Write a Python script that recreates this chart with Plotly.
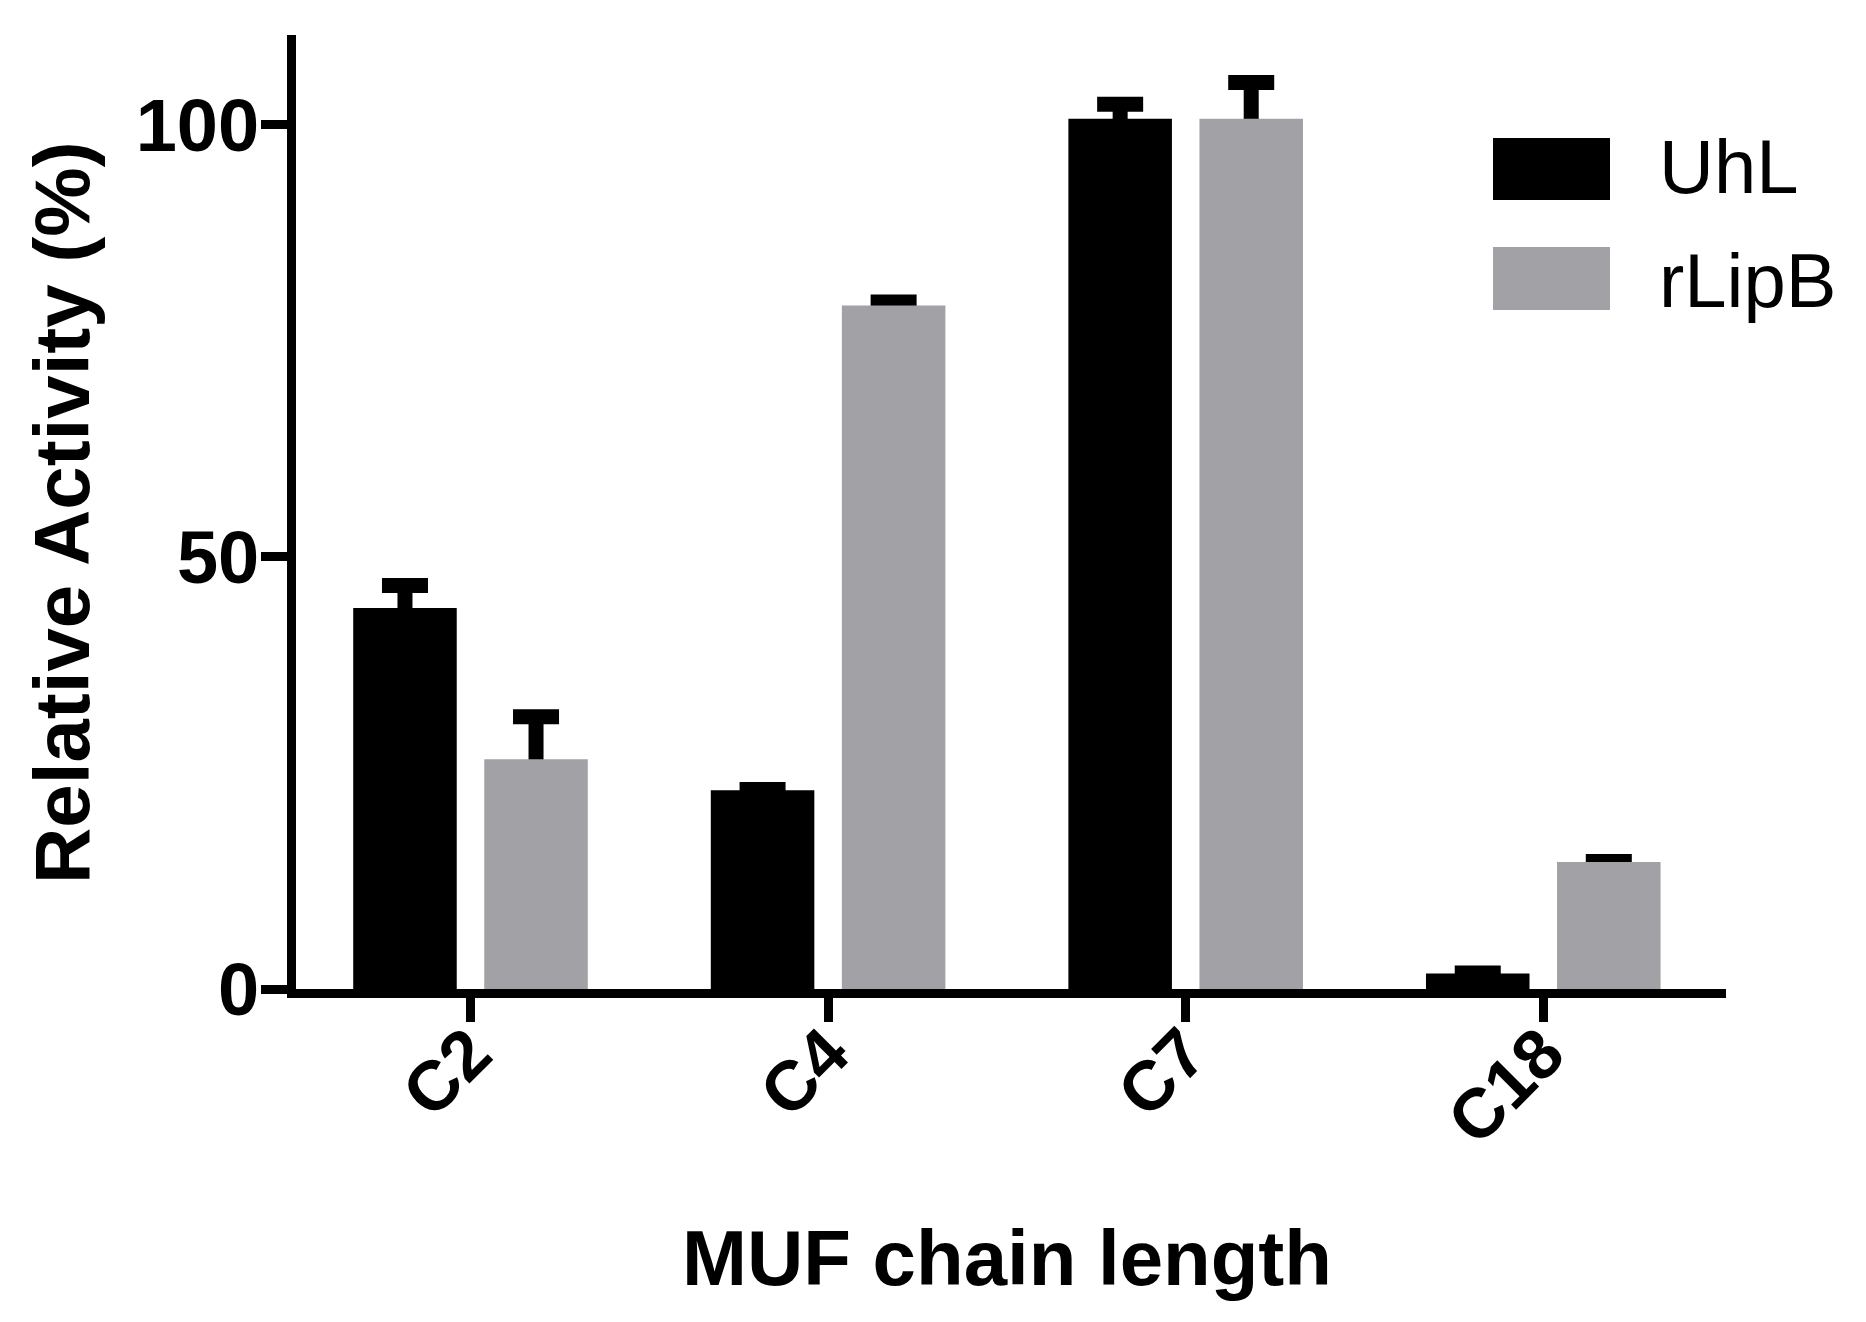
import plotly.graph_objects as go

# data
categories = ["C2", "C4", "C7", "C18"]
series_names = ["UhL", "rLipB"]
uhl_values = [44.1, 23.0, 100.7, 1.8]
uhl_err = [2.6, 0.1, 1.7, 0.05]
rlipb_values = [26.6, 79.1, 100.7, 14.7]
rlipb_err = [4.9, 0.4, 4.2, 0.05]
y_ticks = [0, 50, 100]

colors = ["#000000", "#A2A2A6"]

W, H = 1866, 1322
L, R, T, B = 288, 148, 27, 341
pw, ph = W - L - R, H - T - B
OFF = 8  # the page body margin shifts the figure by this much


def sx(x):
    # screen pixel -> paper x
    return (x - OFF - L) / pw


def sy(y):
    # screen pixel -> paper y
    return (H - B - (y - OFF)) / ph


fig = go.Figure()

# error bars live on the base axes, drawn under the real bars so only the upper half shows
for name, vals, errs in [("UhL", uhl_values, uhl_err), ("rLipB", rlipb_values, rlipb_err)]:
    fig.add_trace(go.Bar(
        x=categories, y=vals, name=name + " err", offsetgroup=name,
        marker=dict(color="rgba(0,0,0,0)", line=dict(width=0)),
        error_y=dict(type="data", array=errs, symmetric=True, color="#000000", thickness=15, width=23),
        showlegend=False, hoverinfo="skip",
    ))

for name, vals, col in [("UhL", uhl_values, colors[0]), ("rLipB", rlipb_values, colors[1])]:
    fig.add_trace(go.Bar(
        x=categories, y=vals, name=name, offsetgroup=name,
        marker=dict(color=col, line=dict(width=0)),
        xaxis="x2", yaxis="y2", showlegend=False,
    ))

bold = "Liberation Sans, Arial"
xr = [-0.488, 3.511]
yr = [0, 110.4]

fig.update_layout(
    width=W, height=H,
    margin=dict(l=L, r=R, t=T, b=B),
    paper_bgcolor="white", plot_bgcolor="white",
    barmode="group", bargap=0.267, bargroupgap=0.21,
    xaxis=dict(
        type="category", categoryorder="array", categoryarray=categories, range=xr,
        showline=True, linewidth=9, linecolor="#000000",
        ticks="outside", ticklen=24, tickwidth=9, tickcolor="#000000",
        tickangle=-45, ticklabelstandoff=-38,
        tickfont=dict(family=bold, size=70, color="#000000", weight="bold"),
        showgrid=False, zeroline=False,
    ),
    yaxis=dict(
        range=yr, tickvals=y_ticks,
        showline=True, linewidth=9, linecolor="#000000",
        ticks="outside", ticklen=26, tickwidth=9, tickcolor="#000000",
        ticklabelstandoff=-13,
        tickfont=dict(family=bold, size=74, color="#000000", weight="bold"),
        showgrid=False, zeroline=False,
    ),
    xaxis2=dict(type="category", categoryorder="array", categoryarray=categories, range=xr,
                overlaying="x", visible=False),
    yaxis2=dict(range=yr, overlaying="y", visible=False),
    showlegend=False,
)

title_font = dict(family=bold, size=78, color="#000000", weight="bold")
fig.add_annotation(text="MUF chain length", xref="paper", yref="paper", x=sx(1007), y=sy(1258),
                   xanchor="center", yanchor="middle", showarrow=False, font=title_font)
fig.add_annotation(text="Relative Activity (%)", xref="paper", yref="paper", x=sx(62), y=sy(513),
                   xanchor="center", yanchor="middle", textangle=-90, showarrow=False, font=title_font)

# legend drawn by hand, the swatches are much larger than plotly's own
legend_rows = [(138, 200, 167), (247, 310, 280)]
for name, col, (top, bot, text_y) in zip(series_names, colors, legend_rows):
    fig.add_shape(type="rect", xref="paper", yref="paper",
                  x0=sx(1493), x1=sx(1610), y0=sy(bot), y1=sy(top),
                  fillcolor=col, line=dict(width=0))
    fig.add_annotation(text=name, xref="paper", yref="paper", x=sx(1657), y=sy(text_y),
                       xanchor="left", yanchor="middle", showarrow=False,
                       font=dict(family=bold, size=76, color="#000000"))

fig.write_html("out.html")
